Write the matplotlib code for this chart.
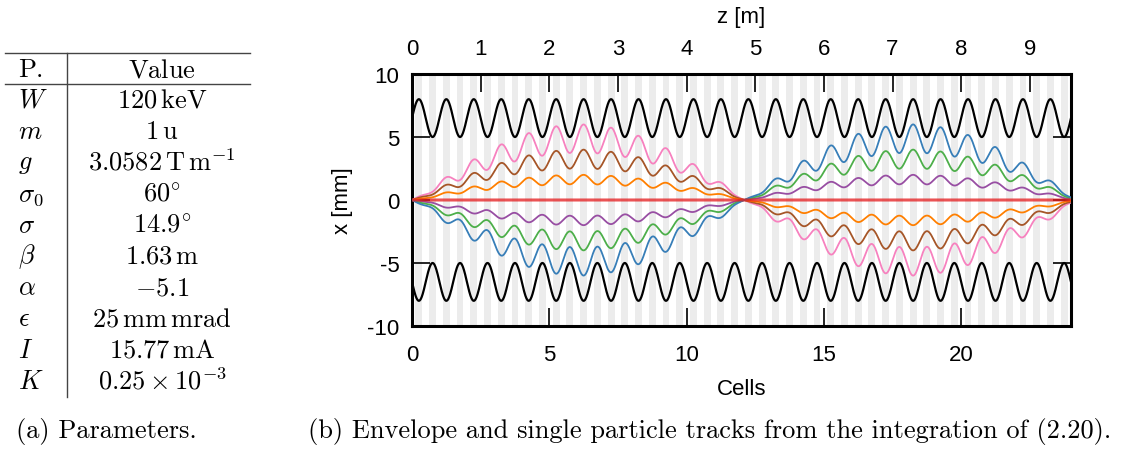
import numpy as np
import matplotlib.pyplot as plt

plt.rcParams['mathtext.fontset'] = 'cm'
sans = ['Liberation Sans', 'DejaVu Sans']

# lattice: 24 FODO cells, 0.4 m each
n_cells = 24
cell_len = 0.4
quad_starts = [0.125, 0.625]   # quad entry inside a cell (fraction of cell)
quad_len = 0.25
# matched envelope: max in F quad, min in D quad
env_max = 8.0
env_min = 5.0
env_peak = 0.25
sigma_deg = 14.9               # depressed phase advance per cell (table)
# single particle tracks, amplitude relative to envelope
track_amp = [0.75, 0.5, 0.25, -0.25, -0.5, -0.75]
track_col = ['#f781bf', '#a65628', '#ff7f00', '#984ea3', '#4daf4a', '#377eb8']

# parameter table
par_names = [r'$W$', r'$m$', r'$g$', r'$\sigma_0$', r'$\sigma$', r'$\beta$',
             r'$\alpha$', r'$\epsilon$', r'$I$', r'$K$']
par_values = [r'$120\,\mathrm{keV}$', r'$1\,\mathrm{u}$',
              r'$3.0582\,\mathrm{T\,m^{-1}}$', r'$60^{\circ}$',
              r'$14.9^{\circ}$', r'$1.63\,\mathrm{m}$', r'$-5.1$',
              r'$25\,\mathrm{mm\,mrad}$', r'$15.77\,\mathrm{mA}$',
              r'$0.25\times10^{-3}$']

W, H = 1126, 452
fig = plt.figure(figsize=(W / 100, H / 100), dpi=100)


def fx(px):
    return px / W


def fy(py):
    return 1 - py / H


# ---- table (a) ----
tfs = 19
row0, drow = 101, 31.2
fig.add_artist(plt.Line2D([fx(5), fx(250)], [fy(54), fy(54)], color='#444444', lw=1.0))
fig.add_artist(plt.Line2D([fx(5), fx(250)], [fy(85), fy(85)], color='#444444', lw=1.0))
fig.add_artist(plt.Line2D([fx(66.5), fx(66.5)], [fy(54), fy(398)],
                          color='#444444', lw=1.0))
fig.text(fx(18), fy(70), r'$\mathrm{P.}$', fontsize=tfs, ha='left', va='center')
fig.text(fx(162), fy(70), r'$\mathrm{Value}$', fontsize=tfs, ha='center', va='center')
for i, (n, v) in enumerate(zip(par_names, par_values)):
    y = row0 + i * drow
    fig.text(fx(18), fy(y), n, fontsize=tfs, ha='left', va='center')
    fig.text(fx(162), fy(y), v, fontsize=tfs, ha='center', va='center')
fig.text(fx(106), fy(432), '(a) Parameters.', family='cmr10', fontsize=tfs,
         ha='center', va='center')
fig.text(fx(710), fy(432), '(b) Envelope and single particle tracks from the integration of (2.20).',
         family='cmr10', fontsize=tfs, ha='center', va='center')

# ---- plot (b) ----
ax = fig.add_axes([fx(412), fy(327), fx(1071 - 412), (327 - 75) / H])

for c in range(n_cells):
    for q in quad_starts:
        ax.axvspan(c + q, c + q + quad_len, color='#ececec', lw=0, zorder=0)

s = np.linspace(0, n_cells, 4801)
mid = (env_max + env_min) / 2
half = (env_max - env_min) / 2
X = mid + half * np.cos(2 * np.pi * (s - env_peak))
# betatron phase grows like 1/X^2, scaled to sigma per cell
w = 1 / X ** 2
ds = s[1] - s[0]
phi = np.concatenate([[0], np.cumsum((w[1:] + w[:-1]) / 2 * ds)])
phi = phi / phi[np.searchsorted(s, 1.0)] * np.radians(sigma_deg)

ax.plot(s, X, color='black', lw=1.6, zorder=2)
ax.plot(s, -X, color='black', lw=1.6, zorder=2)
for a, col in zip(track_amp, track_col):
    ax.plot(s, a * X * np.sin(phi), color=col, lw=1.3, zorder=3)
ax.plot(s, 0 * s, color='#e41a1c', alpha=0.75, lw=2.2, zorder=4)

ax.set_xlim(0, n_cells)
ax.set_ylim(-10, 10)
ax.set_xticks([0, 5, 10, 15, 20])
ax.set_yticks([-10, -5, 0, 5, 10])
ax.set_yticklabels(['-10', '-5', '0', '5', '10'])
ax.tick_params(axis='both', direction='in', length=13, width=1.2, labelsize=16,
               color='black')
ax.tick_params(axis='x', pad=13)
ax.tick_params(axis='y', right=True, pad=9)
for lab in ax.get_xticklabels() + ax.get_yticklabels():
    lab.set_family(sans)
for sp in ax.spines.values():
    sp.set_linewidth(2.2)

top = ax.secondary_xaxis('top', functions=(lambda c: c * cell_len, lambda z: z / cell_len))
top.set_xticks(range(10))
top.tick_params(direction='in', length=13, width=1.2, labelsize=16, pad=11)
for lab in top.get_xticklabels():
    lab.set_family(sans)
top.set_xlabel('z [m]', family=sans, fontsize=16, labelpad=11)

ax.set_xlabel('Cells', family=sans, fontsize=16, labelpad=9)
ax.set_ylabel('x [mm]', family=sans, fontsize=16, labelpad=10)

fig.savefig('out.png', dpi=100)
